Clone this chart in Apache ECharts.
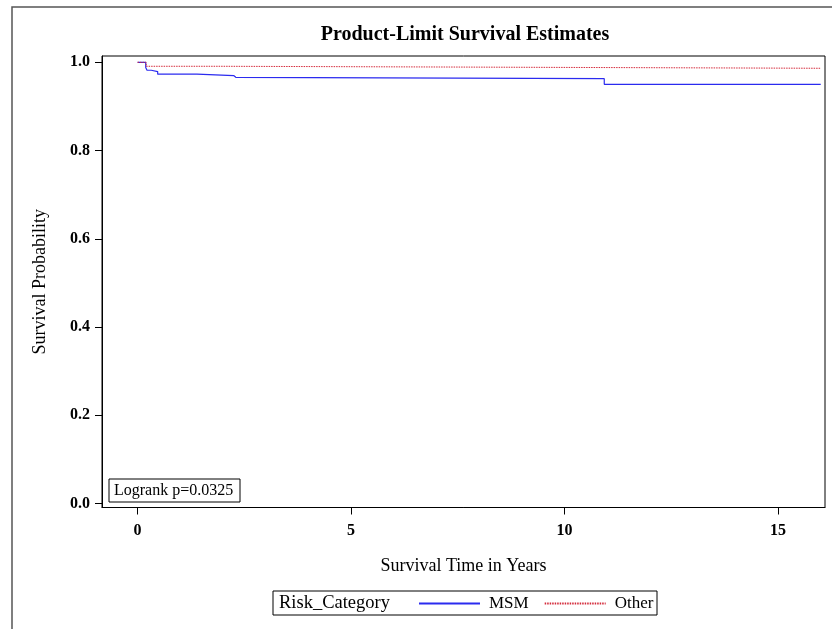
<!DOCTYPE html>
<html>
<head>
<meta charset="utf-8">
<script src="https://cdn.jsdelivr.net/npm/echarts@6/dist/echarts.min.js"></script>
<style>
html,body{margin:0;padding:0;background:#fff;}
#c{width:832px;height:629px;}
</style>
</head>
<body>
<div id="c"></div>
<script>
// Kaplan-Meier step data (time in years, survival probability)
var msmTimes = [0, 0.19, 0.22, 0.32, 0.47, 1.39, 2.25, 2.30, 10.93, 16.0];
var msmSurv  = [1.0, 0.988, 0.982, 0.979, 0.973, 0.970, 0.966, 0.963, 0.950, 0.950];
var otherTimes = [0, 0.20, 2.0, 16.0];
var otherSurv  = [1.0, 0.991, 0.9865, 0.9865];
var xTicks = [0, 5, 10, 15];
var yTicks = [0, 0.2, 0.4, 0.6, 0.8, 1.0];
var seriesNames = ['MSM', 'Other'];
var pText = 'Logrank p=0.0325';

function pairs(t, s) { return t.map(function (v, i) { return [v, s[i]]; }); }

var FONT = '"Liberation Serif","DejaVu Serif",serif';
var chart = echarts.init(document.getElementById('c'), null, {renderer: 'canvas'});
chart.setOption({
  animation: false,
  backgroundColor: '#fff',
  title: {
    text: 'Product-Limit Survival Estimates',
    left: 460, top: 20, textAlign: 'center',
    textStyle: {fontFamily: FONT, fontWeight: 'bold', fontSize: 20, color: '#000'}
  },
  grid: {left: 102, top: 56, width: 723, height: 451.5, show: true, borderColor: '#000', borderWidth: 1, containLabel: false},
  xAxis: {
    type: 'value', min: -0.834, max: 16.1,
    name: 'Survival Time in Years', nameLocation: 'middle', nameGap: 50,
    nameTextStyle: {fontFamily: FONT, fontSize: 18, color: '#000'},
    axisLine: {show: true, onZero: false, lineStyle: {color: '#000', width: 1}},
    axisTick: {show: true, length: 7, customValues: xTicks, lineStyle: {color: '#000'}},
    axisLabel: {customValues: xTicks, fontFamily: FONT, fontSize: 16, fontWeight: 'bold', color: '#000', margin: 15},
    splitLine: {show: false}
  },
  yAxis: {
    type: 'value', min: -0.009, max: 1.0143,
    name: 'Survival Probability', nameLocation: 'middle', nameGap: 53, nameRotate: 90,
    nameTextStyle: {fontFamily: FONT, fontSize: 18, color: '#000'},
    axisLine: {show: true, onZero: false, lineStyle: {color: '#000', width: 1}},
    axisTick: {show: true, length: 7, customValues: yTicks, lineStyle: {color: '#000'}},
    axisLabel: {customValues: yTicks, fontFamily: FONT, fontSize: 16, fontWeight: 'bold', color: '#000', margin: 12,
      formatter: function (v) { return v.toFixed(1); }},
    splitLine: {show: false}
  },
  legend: {
    data: seriesNames, left: 418, top: 595, padding: 0, itemGap: 15,
    itemWidth: 61, itemHeight: 14,
    itemStyle: {opacity: 0},
    textStyle: {fontFamily: FONT, fontSize: 17, color: '#000', padding: [0, 0, 0, 4]}
  },
  graphic: [
    {type: 'rect', shape: {x: 12, y: 7, width: 900, height: 700}, style: {fill: 'none', stroke: '#555', lineWidth: 1.5}, silent: true},
    {type: 'rect', shape: {x: 273, y: 591, width: 384, height: 24}, style: {fill: 'none', stroke: '#000', lineWidth: 1}, silent: true},
    {type: 'text', x: 279, y: 603, style: {text: 'Risk_Category', fontFamily: FONT, fontSize: 18.5, fill: '#000', verticalAlign: 'middle'}},
    {type: 'rect', shape: {x: 109, y: 479, width: 131, height: 23}, style: {fill: '#fff', stroke: '#000', lineWidth: 1}, silent: true, z: 10},
    {type: 'text', x: 114, y: 490.5, z: 11, style: {text: pText, fontFamily: FONT, fontSize: 16, fill: '#000', verticalAlign: 'middle'}}
  ],
  series: [
    {name: seriesNames[0], type: 'line', step: 'end', symbol: 'none', data: pairs(msmTimes, msmSurv),
      lineStyle: {color: '#2b2bef', width: 1.2}, itemStyle: {color: '#2b2bef'}},
    {name: seriesNames[1], type: 'line', step: 'end', symbol: 'none', data: pairs(otherTimes, otherSurv),
      lineStyle: {color: '#d42a3a', width: 1, type: [1.5, 1]}, itemStyle: {color: '#d42a3a'}}
  ]
});
</script>
</body>
</html>
